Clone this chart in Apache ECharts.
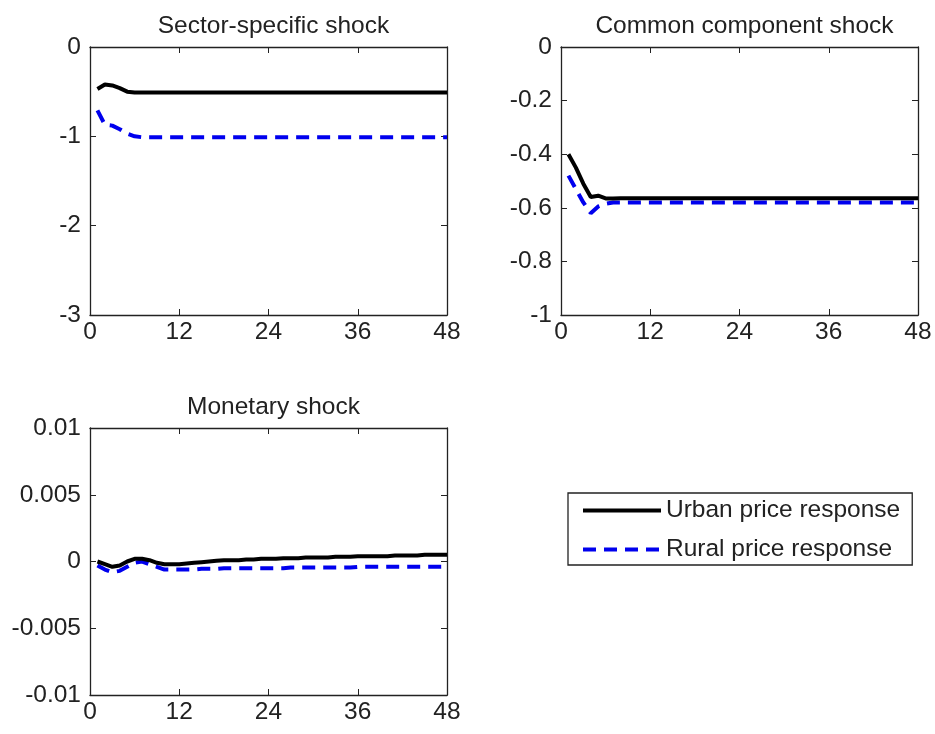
<!DOCTYPE html>
<html>
<head>
<meta charset="utf-8">
<script src="https://cdn.jsdelivr.net/npm/echarts@6/dist/echarts.min.js"></script>
<style>
html, body { margin: 0; padding: 0; background: #fff; }
#chart { width: 935px; height: 734px; }
</style>
</head>
<body>
<div id="chart"></div>
<script>
// horizon, months 1..48
var months = [];
for (var m = 1; m <= 48; m++) months.push(m);

var xTicks = [0, 12, 24, 36, 48];

// sector-specific shock
var sectorUrban = [-0.47, -0.42, -0.43, -0.46, -0.50, -0.51, -0.51, -0.51, -0.51, -0.51,
    -0.51, -0.51, -0.51, -0.51, -0.51, -0.51, -0.51, -0.51, -0.51, -0.51,
    -0.51, -0.51, -0.51, -0.51, -0.51, -0.51, -0.51, -0.51, -0.51, -0.51,
    -0.51, -0.51, -0.51, -0.51, -0.51, -0.51, -0.51, -0.51, -0.51, -0.51,
    -0.51, -0.51, -0.51, -0.51, -0.51, -0.51, -0.51, -0.51];
var sectorRural = [-0.71, -0.87, -0.88, -0.92, -0.97, -1.00, -1.01, -1.01, -1.01, -1.01,
    -1.01, -1.01, -1.01, -1.01, -1.01, -1.01, -1.01, -1.01, -1.01, -1.01,
    -1.01, -1.01, -1.01, -1.01, -1.01, -1.01, -1.01, -1.01, -1.01, -1.01,
    -1.01, -1.01, -1.01, -1.01, -1.01, -1.01, -1.01, -1.01, -1.01, -1.01,
    -1.01, -1.01, -1.01, -1.01, -1.01, -1.01, -1.01, -1.01];

// common component shock
var commonUrban = [-0.40, -0.45, -0.51, -0.56, -0.555, -0.565, -0.565, -0.564, -0.564, -0.564,
    -0.564, -0.564, -0.564, -0.564, -0.564, -0.564, -0.564, -0.564, -0.564, -0.564,
    -0.564, -0.564, -0.564, -0.564, -0.564, -0.564, -0.564, -0.564, -0.564, -0.564,
    -0.564, -0.564, -0.564, -0.564, -0.564, -0.564, -0.564, -0.564, -0.564, -0.564,
    -0.564, -0.564, -0.564, -0.564, -0.564, -0.564, -0.564, -0.564];
var commonRural = [-0.48, -0.53, -0.58, -0.62, -0.595, -0.585, -0.58, -0.58, -0.58, -0.58,
    -0.58, -0.58, -0.58, -0.58, -0.58, -0.58, -0.58, -0.58, -0.58, -0.58,
    -0.58, -0.58, -0.58, -0.58, -0.58, -0.58, -0.58, -0.58, -0.58, -0.58,
    -0.58, -0.58, -0.58, -0.58, -0.58, -0.58, -0.58, -0.58, -0.58, -0.58,
    -0.58, -0.58, -0.58, -0.58, -0.58, -0.58, -0.58, -0.58];

// monetary shock
var monetaryUrban = [0.0000, -0.0002, -0.0004, -0.0003, 0.0000, 0.0002, 0.0002, 0.0001, -0.0001, -0.0002,
    -0.0002, -0.0002, -0.00015, -0.0001, -0.00005, 0.0000, 0.00005, 0.0001, 0.0001, 0.0001,
    0.00015, 0.00015, 0.0002, 0.0002, 0.0002, 0.00025, 0.00025, 0.00025, 0.0003, 0.0003,
    0.0003, 0.0003, 0.00035, 0.00035, 0.00035, 0.0004, 0.0004, 0.0004, 0.0004, 0.0004,
    0.00045, 0.00045, 0.00045, 0.00045, 0.0005, 0.0005, 0.0005, 0.0005];
var monetaryRural = [-0.0003, -0.0006, -0.0008, -0.0007, -0.0004, -0.0001, 0.0000, -0.0002, -0.0004, -0.0006,
    -0.0006, -0.0006, -0.0006, -0.0006, -0.00055, -0.00055, -0.00055, -0.0005, -0.0005, -0.0005,
    -0.0005, -0.0005, -0.0005, -0.0005, -0.0005, -0.0005, -0.00045, -0.00045, -0.00045, -0.00045,
    -0.00045, -0.00045, -0.00045, -0.00045, -0.00045, -0.0004, -0.0004, -0.0004, -0.0004, -0.0004,
    -0.0004, -0.0004, -0.0004, -0.0004, -0.0004, -0.0004, -0.0004, -0.0004];

var titles = ['Sector-specific shock', 'Common component shock', 'Monetary shock'];
var seriesNames = ['Urban price response', 'Rural price response'];

var font = 'Liberation Sans, Arial, sans-serif';
var fontSize = 24.5;
var urbanColor = '#000000';
var ruralColor = '#0000ee';

function pairs(ys) {
    return months.map(function (x, i) { return [x, ys[i]]; });
}

var grids = [
    {left: 90, top: 47, width: 357, height: 268},
    {left: 561, top: 47, width: 357, height: 268},
    {left: 90, top: 428, width: 357, height: 267}
];
var yRanges = [
    {min: -3, max: 0, interval: 1},
    {min: -1, max: 0, interval: 0.2},
    {min: -0.01, max: 0.01, interval: 0.005}
];
var panelData = [
    [sectorUrban, sectorRural],
    [commonUrban, commonRural],
    [monetaryUrban, monetaryRural]
];

var xAxes = [], yAxes = [], series = [], titleOpts = [];
grids.forEach(function (g, i) {
    titleOpts.push({
        text: titles[i],
        left: g.left + g.width / 2,
        top: g.top - 38,
        textAlign: 'center',
        textStyle: {fontFamily: font, fontSize: fontSize, fontWeight: 'normal', color: '#222'}
    });
    var frame = {show: true, onZero: false, lineStyle: {color: '#222', width: 1.3}};
    var tick = {show: true, inside: true, length: 6, lineStyle: {color: '#222', width: 1}};
    // bottom x axis with labels
    xAxes.push({
        gridIndex: i, type: 'value', min: 0, max: 48, interval: 12, position: 'bottom',
        axisLine: frame, axisTick: tick, splitLine: {show: false},
        axisLabel: {fontFamily: font, fontSize: fontSize, color: '#222', margin: 5,
            formatter: function (v) { return xTicks.indexOf(v) >= 0 ? String(v) : ''; }}
    });
    // top x axis, frame only
    xAxes.push({
        gridIndex: i, type: 'value', min: 0, max: 48, interval: 12, position: 'top',
        axisLine: frame, axisTick: tick, axisLabel: {show: false}, splitLine: {show: false}
    });
    var yr = yRanges[i];
    yAxes.push({
        gridIndex: i, type: 'value', min: yr.min, max: yr.max, interval: yr.interval, position: 'left',
        axisLine: frame, axisTick: tick, splitLine: {show: false},
        axisLabel: {fontFamily: font, fontSize: fontSize, color: '#222', margin: 9}
    });
    yAxes.push({
        gridIndex: i, type: 'value', min: yr.min, max: yr.max, interval: yr.interval, position: 'right',
        axisLine: frame, axisTick: tick, axisLabel: {show: false}, splitLine: {show: false}
    });
    series.push({
        name: seriesNames[0], type: 'line', xAxisIndex: i * 2, yAxisIndex: i * 2,
        data: pairs(panelData[i][0]), symbol: 'none', z: 3,
        lineStyle: {color: urbanColor, width: 4}, itemStyle: {color: urbanColor}
    });
    series.push({
        name: seriesNames[1], type: 'line', xAxisIndex: i * 2, yAxisIndex: i * 2,
        data: pairs(panelData[i][1]), symbol: 'none', z: 2,
        lineStyle: {color: ruralColor, width: 4, type: [13, 8]}, itemStyle: {color: ruralColor}
    });
});

var chart = echarts.init(document.getElementById('chart'));
chart.setOption({
    animation: false,
    backgroundColor: '#fff',
    title: titleOpts,
    grid: grids,
    xAxis: xAxes,
    yAxis: yAxes,
    legend: {
        data: seriesNames,
        orient: 'vertical',
        left: 568, top: 493,
        itemWidth: 78, itemHeight: 14, itemGap: 14,
        padding: [5, 12, 3, 13],
        borderColor: '#222', borderWidth: 1.3,
        selectedMode: false,
        itemStyle: {opacity: 0},
        lineStyle: {width: 4},
        textStyle: {fontFamily: font, fontSize: fontSize, color: '#222', padding: [0, 0, 0, 0]}
    },
    series: series
});
</script>
</body>
</html>
